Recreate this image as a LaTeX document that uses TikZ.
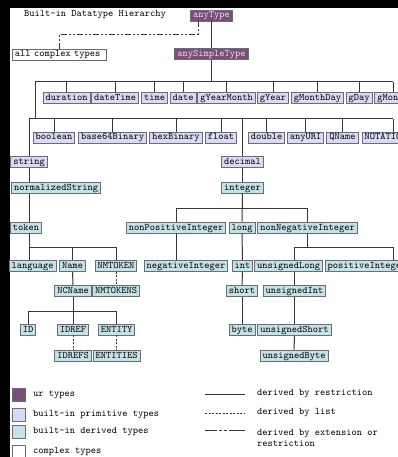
\documentclass[tikz,border=0pt]{standalone}
\usepackage{fontspec}
\definecolor{urfill}{RGB}{122,78,118}
\definecolor{urtext}{RGB}{232,220,238}
\definecolor{primfill}{RGB}{218,218,246}
\definecolor{derfill}{RGB}{196,226,232}
\definecolor{boxline}{RGB}{105,108,118}
\definecolor{linecol}{RGB}{55,55,55}
\tikzset{
  tbox/.style={draw=boxline, line width=0.9pt, font=\fontsize{10}{11}\ttfamily,
    inner xsep=2.5pt, inner ysep=0pt, minimum height=11pt, text height=6.5pt, text depth=1.5pt},
  urbox/.style={tbox, fill=urfill, text=urtext},
  primbox/.style={tbox, fill=primfill},
  derbox/.style={tbox, fill=derfill},
  cplxbox/.style={tbox, fill=white},
  restr/.style={draw=linecol, line width=1pt},
  listline/.style={restr, dash pattern=on 2pt off 1.5pt},
  extline/.style={restr, dash pattern=on 6pt off 2pt on 2pt off 2pt on 2pt off 2pt},
  legtext/.style={anchor=west, font=\fontsize{10}{11}\ttfamily, inner sep=0pt}
}
\begin{document}
\begin{tikzpicture}[x=1pt, y=-1pt]
\fill[black] (0,0) rectangle (398,457);
\useasboundingbox (0,0) rectangle (398,457);
\clip (0,0) rectangle (398,457);
\fill[white] (10,8) rectangle (398,457);

\node[legtext] (title) at (24,15) {Built-in Datatype Hierarchy};

% ur types
\node[urbox] (anyType) at (211.5,15.5) {anyType};
\node[urbox] (anySimpleType) at (211.5,54) {anySimpleType};
\node[cplxbox, anchor=west, text width=89pt] (complex) at (12,54.5) {all complex types};
\draw[restr] (anyType.south) -- (anySimpleType.north);
\draw[extline] ([xshift=-13.5pt]anyType.south) -- ++(0,13) -| (complex.north);

% primitive types
\coordinate (bar1) at (35,82);
\coordinate (bar2) at (29,119);
\foreach \n/\x in {duration/66.5, dateTime/115, time/154.5, date/183, gYearMonth/226.5,
    gYear/273, gMonthDay/317.5, gDay/359, gMonth/393}
{
    \node[primbox] (\n) at (\x,98) {\n};
    \draw[restr] (\n.north) -- (\n.north |- bar1);
}
\foreach \n/\x/\d in {boolean/54/0, base64Binary/112.5/0, hexBinary/176/0, float/221/0,
    double/266.5/0, anyURI/305.5/0, QName/342.5/0, NOTATION/385.5/7.5}
{
    \node[primbox] (\n) at (\x,137.5) {\n};
    \draw[restr] ([xshift=\d pt]\n.north) -- ([xshift=\d pt]\n.north |- bar2);
}
\node[primbox] (string) at (29,162) {string};
\node[primbox] (decimal) at (242.5,162) {decimal};
\draw[restr] (anySimpleType.south) -- (anySimpleType.south |- bar1);
\draw[restr] (bar1 |- bar2) -- (bar1) -- (gMonth.north |- bar1);
\draw[restr] (string.north) -- (bar2) -- ([xshift=7.5pt]NOTATION.north |- bar2);
\draw[restr] (decimal.north) -- (decimal.north |- bar2);

% string branch
\node[derbox] (normalizedString) at (56,188) {normalizedString};
\node[derbox] (token) at (26,227.5) {token};
\node[derbox] (language) at (32.5,266) {language};
\node[derbox] (Name) at (72.5,266) {Name};
\node[derbox] (NMTOKEN) at (116,266) {NMTOKEN};
\node[derbox] (NCName) at (73,291) {NCName};
\node[derbox] (NMTOKENS) at (116,291) {NMTOKENS};
\node[derbox] (ID) at (28,329.5) {ID};
\node[derbox] (IDREF) at (73,329.5) {IDREF};
\node[derbox] (ENTITY) at (116.5,329.5) {ENTITY};
\node[derbox] (IDREFS) at (73,355.5) {IDREFS};
\node[derbox] (ENTITIES) at (116.5,355.5) {ENTITIES};
\coordinate (bar3) at (29,247);
\coordinate (bar4) at (28,311);
\draw[restr] (string.south) -- (string.south |- normalizedString.north);
\draw[restr] (string.south |- normalizedString.south) -- (string.south |- token.north);
\draw[restr] (bar3 |- token.south) -- (bar3 |- language.north);
\draw[restr] (bar3) -- (NMTOKEN.north |- bar3) -- (NMTOKEN.north);
\draw[restr] (Name.north) -- (Name.north |- bar3);
\draw[listline] (NMTOKEN.south) -- (NMTOKENS.north);
\draw[restr] (Name.south) -- (NCName.north);
\draw[restr] (NCName.south) -- (IDREF.north);
\draw[restr] (ID.north) -- (bar4) -- (ENTITY.north |- bar4) -- (ENTITY.north);
\draw[listline] (IDREF.south) -- (IDREFS.north);
\draw[listline] (ENTITY.south) -- (ENTITIES.north);

% decimal branch
\node[derbox] (integer) at (242.5,187.5) {integer};
\node[derbox] (nonPositiveInteger) at (176,227.5) {nonPositiveInteger};
\node[derbox] (long) at (242,227.5) {long};
\node[derbox] (nonNegativeInteger) at (307.5,227.5) {nonNegativeInteger};
\node[derbox] (negativeInteger) at (186,266) {negativeInteger};
\node[derbox] (int) at (242.5,266) {int};
\node[derbox] (unsignedLong) at (288.5,266) {unsignedLong};
\node[derbox] (positiveInteger) at (367,266) {positiveInteger};
\node[derbox] (short) at (242,291) {short};
\node[derbox] (unsignedInt) at (294.5,291) {unsignedInt};
\node[derbox] (byte) at (242,330) {byte};
\node[derbox] (unsignedShort) at (294.5,330) {unsignedShort};
\node[derbox] (unsignedByte) at (294,355.5) {unsignedByte};
\coordinate (bar5) at (176,208);
\coordinate (bar6) at (294.5,247);
\draw[restr] (decimal.south) -- (integer.north);
\draw[restr] (integer.south) -- (long.north);
\draw[restr] (nonPositiveInteger.north) -- (bar5) -- (nonNegativeInteger.north |- bar5) -- (nonNegativeInteger.north);
\draw[restr] (nonPositiveInteger.south) -- (nonPositiveInteger.south |- negativeInteger.north);
\draw[restr] (long.south) -- (int.north);
\draw[restr] (int.south) -- (short.north);
\draw[restr] (short.south) -- (byte.north);
\draw[restr] (nonNegativeInteger.south) -- (nonNegativeInteger.south |- bar6);
\draw[restr] (bar6 |- unsignedLong.north) -- (bar6) -- ([xshift=26pt]positiveInteger.north |- bar6) -- ([xshift=26pt]positiveInteger.north);
\draw[restr] (bar6 |- unsignedLong.south) -- (unsignedInt.north);
\draw[restr] (unsignedInt.south) -- (unsignedShort.north);
\draw[restr] (unsignedShort.south) -- (unsignedByte.north);

% legend
\foreach \c/\y/\t in {urfill/394.5/ur types, primfill/414.5/built-in primitive types,
    derfill/431.5/built-in derived types, white/451.5/complex types}
{
    \draw[boxline, line width=0.9pt, fill=\c] (12,\y-6.5) rectangle (25,\y+6.5);
    \node[legtext] at (33,\y) {\t};
}
\coordinate (legA) at (205,394);
\coordinate (legB) at (205,413);
\coordinate (legC) at (205,430);
\draw[restr] (legA) -- ++(40,0);
\draw[listline] (legB) -- ++(40,0);
\draw[restr, dash pattern=on 12pt off 2pt on 3pt off 2pt on 3pt off 2pt on 18pt] (legC) -- ++(40,0);
\node[legtext] at (257,394) {derived by restriction};
\node[legtext] at (257,413) {derived by list};
\node[legtext, align=left] at (257,438) {derived by extension or\\restriction};
\end{tikzpicture}
\end{document}
